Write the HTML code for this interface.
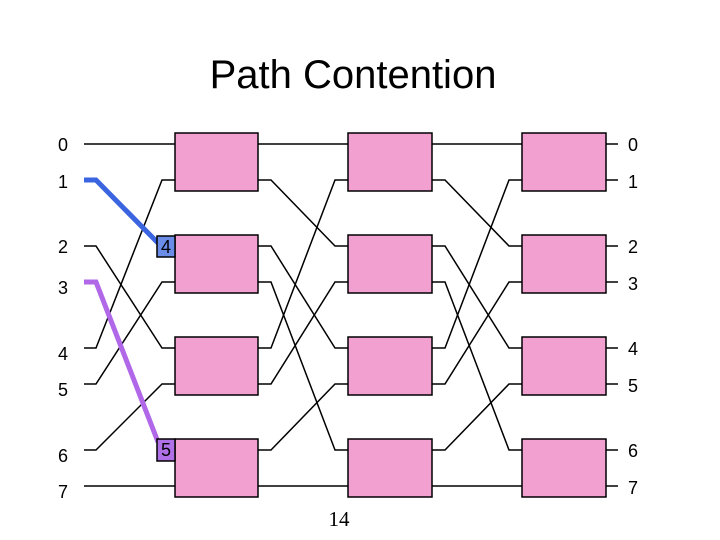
<!DOCTYPE html>
<html><head><meta charset="utf-8"><style>body{margin:0;background:#fff}svg{display:block}</style></head>
<body>
<svg width="720" height="540" xmlns="http://www.w3.org/2000/svg" font-family="Liberation Sans, sans-serif">
<text x="353" y="88" font-size="40" text-anchor="middle">Path Contention</text>
<g stroke="#000" stroke-width="1.5" fill="none">
<!-- stage 0 -->
<polyline points="84,144 175,144"/>
<polyline points="84,246 96,246 162,348 175,348"/>
<polyline points="84,348 96,348 162,180 175,180"/>
<polyline points="84,384 96,384 162,282 175,282"/>
<polyline points="84,450 96,450 162,384 175,384"/>
<polyline points="84,486 175,486"/>
<!-- stage 1 -->
<polyline points="258,144 348,144"/>
<polyline points="258,180 271,180 335,246 348,246"/>
<polyline points="258,246 271,246 335,348 348,348"/>
<polyline points="258,282 271,282 335,450 348,450"/>
<polyline points="258,348 271,348 335,180 348,180"/>
<polyline points="258,384 271,384 335,282 348,282"/>
<polyline points="258,450 271,450 335,384 348,384"/>
<polyline points="258,486 348,486"/>
<!-- stage 2 -->
<polyline points="432,144 522,144"/>
<polyline points="432,180 445,180 509,246 522,246"/>
<polyline points="432,246 445,246 509,348 522,348"/>
<polyline points="432,282 445,282 509,450 522,450"/>
<polyline points="432,348 445,348 509,180 522,180"/>
<polyline points="432,384 445,384 509,282 522,282"/>
<polyline points="432,450 445,450 509,384 522,384"/>
<polyline points="432,486 522,486"/>
<!-- outputs -->
<path d="M606,144H618M606,180H618M606,246H618M606,282H618M606,348H618M606,384H618M606,450H618M606,486H618"/>
</g>
<g fill="#f2a0cf" stroke="#000" stroke-width="1.5">
<rect x="175" y="133" width="83" height="58"/><rect x="175" y="235" width="83" height="58"/><rect x="175" y="337" width="83" height="58"/><rect x="175" y="439" width="83" height="58"/>
<rect x="348" y="133" width="84" height="58"/><rect x="348" y="235" width="84" height="58"/><rect x="348" y="337" width="84" height="58"/><rect x="348" y="439" width="84" height="58"/>
<rect x="522" y="133" width="84" height="58"/><rect x="522" y="235" width="84" height="58"/><rect x="522" y="337" width="84" height="58"/><rect x="522" y="439" width="84" height="58"/>
</g>
<polyline points="84,180 96,180 158,243" stroke="#3a64e0" stroke-width="5" fill="none"/>
<polyline points="84,282 96,282 158,442" stroke="#b068e8" stroke-width="5" fill="none"/>
<rect x="157" y="236" width="18" height="21" fill="#6b8de8" stroke="#000" stroke-width="1.5"/>
<text x="166" y="253" font-size="18" text-anchor="middle">4</text>
<rect x="157" y="439" width="18" height="22" fill="#b070e8" stroke="#000" stroke-width="1.5"/>
<text x="166" y="456" font-size="18" text-anchor="middle">5</text>
<g font-size="18">
<text x="58" y="151">0</text><text x="58" y="188">1</text><text x="58" y="253">2</text><text x="58" y="294">3</text>
<text x="58" y="360">4</text><text x="58" y="396">5</text><text x="58" y="462">6</text><text x="58" y="498">7</text>
<text x="628" y="151">0</text><text x="628" y="188">1</text><text x="628" y="253">2</text><text x="628" y="290">3</text>
<text x="628" y="355">4</text><text x="628" y="392">5</text><text x="628" y="457">6</text><text x="628" y="494">7</text>
</g>
<text x="339" y="526" font-size="21" font-family="Liberation Serif, serif" text-anchor="middle">14</text>
</svg>
</body></html>
